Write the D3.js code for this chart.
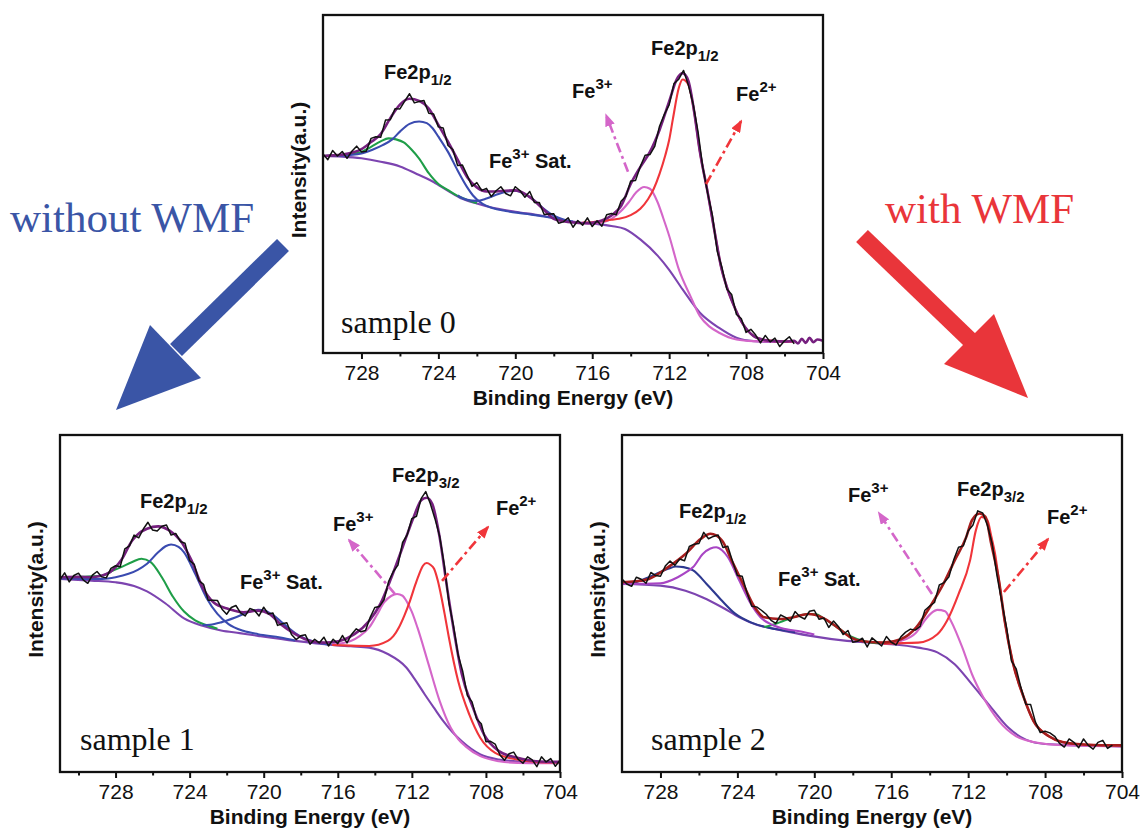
<!DOCTYPE html>
<html>
<head>
<meta charset="utf-8">
<script src="https://cdn.jsdelivr.net/npm/d3@7"></script>
<style>
  body { margin: 0; background: #fff; }
  svg { display: block; }
</style>
</head>
<body>
<svg id="fig" width="1142" height="831"></svg>
<script>
// ---------- data (binding energy in eV, intensity in arbitrary units 0-100) ----------
var majorTicks = [728, 724, 720, 716, 712, 708, 704];
var minorTicks = [730, 726, 722, 718, 714, 710, 706];
var rawStep = 0.25;

// sample 0 (top)
var s0Raw = [58.9,57.2,59.9,58.3,59.6,57.6,59.7,61.2,59.5,59.7,
  63.5,64.0,63.8,68.9,69.0,72.3,72.2,74.5,76.7,74.0,
  74.4,74.7,70.9,70.7,66.9,66.6,61.4,60.2,55.5,55.6,
  52.6,49.3,50.4,48.1,48.7,46.3,48.0,49.2,47.2,46.5,
  49.2,48.0,46.1,47.8,44.5,44.5,41.0,41.1,41.2,38.4,
  38.8,40.0,37.2,39.2,37.8,40.0,37.4,39.1,37.5,40.9,
  41.3,40.9,44.9,46.4,50.9,51.0,55.2,58.5,58.7,61.1,
  67.1,70.6,73.4,79.7,81.0,83.6,79.2,73.6,65.5,54.9,
  47.4,40.7,30.1,25.2,18.9,17.3,11.4,10.2,6.1,7.0,
  5.3,3.0,5.2,3.3,4.4,1.9,3.6,4.8,2.7];
var s0Bg = [[730,58.3],[729,58.1],[728,57.6],[727,56.6],[726,55.2],[725.2,53.2],[724.25,50.6],[723.5,48.0],
  [722.76,45.6],[722,44.2],[721.3,43.1],[720,41.8],[718.7,40.7],[717.7,39.6],[716.8,38.7],[715.8,38.2],
  [715,37.6],[714.3,36.7],[713.5,33.6],[712.6,28.8],[712,24.6],[711.3,18.8],[710.4,11.9],[709.4,7.4],
  [708.5,4.5],[707.6,3.5],[706.5,3.3],[705.5,3.3]];
var s0Green = [[730,58.3],[729,58.6],[728,59.5],[727.5,61.0],[727,62.6],[726.6,63.5],[726.2,63.2],[725.8,62.3],
  [725.4,60.2],[725,57.5],[724.5,53.2],[724,50.0],[723.5,48.2],[723,46.5],[722.5,45.3],[722,44.3]];
var s0Blue = [[730,58.3],[729,58.4],[728,59.0],[727.4,60.2],[726.9,61.5],[726.4,63.2],[726,65.5],[725.5,67.8],
  [725,68.5],[724.6,68.0],[724.3,66.5],[724,64.0],[723.5,59.5],[723,54.0],[722.5,49.0],[722.2,46.6],
  [721.7,44.1],[721.2,42.9],[720.5,42.0],[719.5,41.2],[718.5,40.4],[717.7,39.6]];
var s0Sat = [[723,46.6],[722.5,45.3],[722,45.0],[721.5,45.7],[721,46.8],[720.5,47.7],[720,48.0],[719.5,47.0],
  [719,45.1],[718.5,42.6],[718,40.6],[717.5,39.5],[717,38.9]];
var s0Pink = [[716.5,38.5],[716,38.3],[715.5,38.6],[715,39.7],[714.5,42.0],[714.1,44.6],[713.7,47.6],[713.3,49.1],
  [713,48.6],[712.6,44.6],[712.3,39.8],[712,34.7],[711.5,24.8],[710.9,16.9],[710.4,10.9],[709.9,7.8],
  [709.4,6.0],[708.5,4.0],[707.6,3.5],[706,3.3],[705.5,3.3]];
var s0Red = [[716.5,38.6],[716,38.7],[715,39.4],[714.6,39.7],[714,40.8],[713.5,42.7],[713.1,45.5],[712.8,48.6],
  [712.5,53.0],[712.2,58.5],[712,63.0],[711.8,69.4],[711.5,78.4],[711.3,80.9],[711,79.4],[710.7,71.4],
  [710.4,59.5],[710,47.6],[709.6,34.7],[709.3,25.5],[709,19.5],[708.7,14.9],[708.2,8.9],[707.6,5.0],
  [707,3.8],[706,3.4],[705.5,3.4]];
var s0Env = [[730,58.3],[729,58.7],[728,60.3],[727.5,62.4],[727,64.8],[726.5,69.5],[726,73.5],[725.5,75.2],
  [725,74.6],[724.5,72.3],[724,67.5],[723.5,62.5],[723,57.2],[722.5,52.0],[722,49.0],[721.5,47.8],
  [721,47.8],[720.5,48.0],[720,48.1],[719.5,47.1],[719,45.0],[718.5,42.3],[718,39.7],[717.5,39.0],
  [717,38.6],[716.5,38.4],[716,38.5],[715.5,39.2],[715,40.7],[714.5,43.5],[714,50.0],[713.5,55.0],
  [713,59.5],[712.5,66.0],[712,74.4],[711.6,81.0],[711.3,82.8],[711,80.5],[710.7,71.4],[710.4,59.5],
  [710,47.6],[709.6,34.7],[709.3,25.5],[709,19.5],[708.7,14.9],[708.2,8.9],[707.6,5.0],[707,3.8],
  [706.5,3.5],[706,3.4],[705.5,3.6],[705.3,2.8],[705.1,4.2],[704.9,3.0],[704.7,4.5],[704.5,3.2],
  [704.3,4.0],[704,3.6]];
var s0Labels = [
  {at: [726.83, 81.1], text: "Fe2p", sub: "1/2"},
  {at: [712.94, 88.2], text: "Fe2p", sub: "1/2"},
  {at: [717.05, 75.4], text: "Fe", sup: "3+"},
  {at: [708.52, 74.6], text: "Fe", sup: "2+"},
  {at: [721.37, 54.7], text: "Fe", sup: "3+", tail: " Sat."}
];
var s0Arrows = [
  {from: [714.14, 53.6], to: [715.28, 70.4], kind: "pink"},
  {from: [710.08, 50.0], to: [708.26, 68.6], kind: "red"}
];

// sample 1 (bottom left)
var s1Raw = [57.1,59.1,56.4,58.3,59.0,57.0,56.0,58.4,59.5,57.9,
  57.6,60.4,61.2,60.9,66.2,67.1,70.3,69.5,72.1,74.1,
  71.8,71.5,72.9,73.3,70.3,70.8,68.4,67.9,62.7,61.6,
  56.8,55.7,51.0,51.0,50.9,48.3,46.8,48.8,49.4,47.2,
  46.3,48.5,48.0,46.3,48.9,46.9,47.2,43.5,44.0,44.3,
  40.8,39.3,40.4,40.7,37.9,39.4,38.3,40.0,37.4,39.4,
  38.1,40.5,38.3,40.9,42.5,41.6,42.0,45.9,48.8,49.1,
  51.1,56.6,59.5,61.4,68.1,70.4,75.2,75.9,81.1,83.2,
  79.6,75.1,70.0,61.5,50.3,43.3,34.7,29.8,22.7,20.8,
  15.7,14.3,9.0,9.1,8.3,5.1,3.5,5.4,5.9,3.7,
  2.6,4.5,3.6,1.6,4.5,3.0,4.0,1.7,3.5];
var s1Bg = [[731,57.3],[729.3,56.8],[728,56.3],[727,55.2],[726.3,53.6],[725.3,50.0],[724.3,45.6],[723.3,43.4],
  [722.3,42.0],[721.3,41.2],[720.3,40.4],[718.3,38.9],[716.3,37.7],[715.3,37.3],[714.3,36.9],[713.3,35.0],
  [712.3,31.0],[711.8,27.2],[711.3,23.0],[710.8,19.0],[710.3,15.1],[709.8,11.8],[709.3,9.1],[708.3,5.2],
  [707.3,3.7],[706.3,3.2],[705,2.9],[704,2.7]];
var s1Green = [[731,57.5],[730.3,57.8],[729.5,58.0],[728.7,58.3],[728.2,59.6],[727.7,60.8],[727.1,62.3],
  [726.6,63.3],[726.1,62.3],[725.5,57.8],[724.9,52.0],[724.3,47.6],[723.7,45.0],[723.1,43.6],[722.5,42.5]];
var s1Blue = [[731,57.5],[729.5,57.3],[728.7,57.3],[728,57.8],[727.3,58.8],[726.8,60.0],[726.3,61.8],
  [725.7,65.2],[725.3,67.0],[725,67.5],[724.6,66.8],[724.3,65.2],[723.7,58.8],[723.1,51.8],[722.5,46.9],
  [721.9,43.9],[721.1,41.9],[720.3,40.9],[719.1,39.9],[718.3,39.0]];
var s1Sat = [[723.3,43.6],[722.9,43.7],[722.3,44.4],[721.5,45.9],[720.7,47.7],[720.3,48.1],[719.9,47.8],
  [719.5,46.6],[719.1,44.8],[718.7,42.9],[718.3,41.2],[717.9,39.9],[717.1,38.4],[716.5,37.8]];
var s1Pink = [[716.3,37.9],[715.3,38.9],[714.8,40.4],[714.3,42.9],[713.9,46.5],[713.5,50.3],[713.1,52.3],
  [712.8,52.8],[712.5,52.3],[712.3,50.8],[712,47.5],[711.7,42.9],[711.1,32.0],[710.5,21.1],[709.9,13.1],
  [709.5,9.8],[709.1,7.6],[708.3,4.7],[707.3,3.2],[706.3,2.7],[705,2.6],[704,2.6]];
var s1Red = [[716.3,37.7],[715.3,37.5],[714.3,37.4],[713.3,38.9],[713,40.3],[712.7,42.9],[712.4,46.5],
  [712.1,50.8],[711.8,55.8],[711.6,58.8],[711.4,61.2],[711.2,62.0],[711,61.5],[710.8,60.3],[710.6,56.8],
  [710.4,51.8],[710.2,46.0],[710,39.9],[709.5,27.0],[708.9,17.1],[708.3,10.1],[707.5,5.7],[706.3,3.7],
  [705.3,3.0],[704,2.8]];
var s1Env = [[731,57.8],[730,57.9],[729.3,57.8],[728.8,58.2],[728.3,59.3],[727.7,62.8],[727.1,68.7],
  [726.7,71.0],[726.3,72.2],[725.7,72.9],[725.1,71.7],[724.5,68.7],[723.9,62.8],[723.3,54.8],[722.7,50.3],
  [721.9,48.4],[721.1,47.4],[720.3,47.9],[719.7,46.9],[719.1,43.9],[718.3,40.9],[717.5,38.9],[716.7,38.4],
  [715.9,38.9],[715.1,40.9],[714.3,44.9],[713.7,49.9],[713.1,57.8],[712.5,66.7],[711.9,75.7],[711.5,80.6],
  [711.2,81.4],[710.9,79.6],[710.5,69.7],[710.1,54.8],[709.7,40.9],[709.3,29.0],[708.7,19.1],[708.1,11.1],
  [707.3,6.2],[706.3,4.2],[705.3,3.2],[704,3.0]];
var s1Labels = [
  {at: [726.68, 78.3], text: "Fe2p", sub: "1/2"},
  {at: [713.07, 86.1], text: "Fe2p", sub: "3/2"},
  {at: [716.26, 71.5], text: "Fe", sup: "3+"},
  {at: [707.46, 76.3], text: "Fe", sup: "2+"},
  {at: [721.28, 54.3], text: "Fe", sup: "3+", tail: " Sat."}
];
var s1Arrows = [
  {from: [712.91, 52.8], to: [715.39, 68.8], kind: "pink"},
  {from: [710.37, 56.7], to: [707.89, 72.7], kind: "red"}
];

// sample 2 (bottom right)
var s2Raw = [57.3,55.8,55.1,57.8,57.2,56.0,59.2,58.3,58.1,61.1,
  62.6,61.3,63.2,62.7,66.9,67.6,67.8,71.1,69.2,69.9,
  70.3,66.6,67.0,62.5,58.3,58.1,53.2,49.2,49.0,48.0,
  46.8,45.0,44.1,46.6,45.9,44.7,47.6,46.1,45.4,47.7,
  48.0,45.3,45.7,42.9,44.8,43.2,40.8,42.0,38.5,38.8,
  39.7,37.1,39.8,38.6,37.4,40.2,38.5,37.7,40.1,41.5,
  42.4,42.1,43.2,48.0,49.2,50.3,55.5,56.2,57.9,63.0,
  66.7,67.1,71.5,73.3,77.5,76.9,73.2,67.8,58.3,50.4,
  42.8,33.0,30.6,24.9,20.1,20.0,14.8,11.7,12.1,11.6,
  10.6,8.5,7.4,9.8,8.8,7.2,9.8,7.9,6.8,8.8,
  9.4,7.0,8.0];
var s2Bg = [[730,55.8],[728,55.3],[726.7,53.8],[725.8,51.8],[724.8,48.9],[723.9,45.9],[723,43.7],[722,42.4],
  [720.2,40.4],[718.3,38.9],[716.4,38.1],[714.6,36.9],[713.6,35.5],[712.7,32.0],[711.8,26.0],[710.8,19.1],
  [709.9,13.1],[709,9.6],[708,8.3],[706.2,7.9],[704,7.6]];
var s2Navy = [[730,55.8],[729.3,56.3],[728.6,57.8],[727.6,60.3],[727.2,61.0],[726.8,60.8],[726.3,59.8],
  [725.6,55.8],[724.8,50.8],[724.1,46.9],[723.3,44.4],[722.6,43.1],[721.8,42.2],[721,41.5]];
var s2Violet = [[730,55.8],[728,56.0],[727.1,57.8],[726.6,59.5],[726.3,60.8],[725.8,64.7],[725.4,66.3],
  [725.1,66.7],[724.8,65.8],[724.5,63.8],[723.9,56.8],[723.3,49.9],[722.8,45.9],[722.2,43.7],[721.5,42.4],
  [720.7,41.7],[720,40.8]];
var s2Sat = [[722.6,43.0],[722.2,43.6],[721.8,44.4],[721.1,45.9],[720.3,46.9],[719.9,46.8],[719.6,45.9],
  [718.8,42.9],[718.1,40.2],[717.4,38.8],[716.6,38.2]];
var s2Pink = [[716.4,38.1],[715.5,38.9],[714.7,41.4],[714.2,45.4],[713.9,47.2],[713.6,48.1],[713.2,47.7],
  [712.9,44.9],[712.3,36.9],[711.8,29.0],[711.2,22.0],[710.4,15.1],[709.5,10.6],[708.6,8.9],[707.5,8.1],
  [706,7.8],[704,7.6]];
var s2Red = [[716.4,38.1],[714.6,38.4],[713.6,40.9],[713.1,44.9],[712.5,52.8],[711.9,62.8],[711.6,71.7],
  [711.3,75.7],[711,74.7],[710.8,70.0],[710.6,64.7],[710.4,56.8],[710.1,44.9],[709.7,33.0],[709.1,22.0],
  [708.6,15.1],[707.8,10.6],[707.1,8.9],[705.8,8.1],[704,7.9]];
var s2Env = [[730,56.3],[729.3,56.6],[728.6,57.3],[727.6,60.8],[726.7,64.7],[725.9,69.2],[725.4,70.7],
  [724.8,68.7],[724.3,62.8],[723.7,55.8],[723.1,48.9],[722.6,45.9],[721.8,45.4],[721.1,45.9],[720.3,46.9],
  [719.6,45.9],[718.8,42.9],[718.1,39.9],[717.4,38.7],[716.4,38.4],[715.5,39.4],[714.7,42.9],[714,48.9],
  [713.2,56.8],[712.7,62.8],[712.1,69.7],[711.8,74.7],[711.4,76.7],[711.1,75.7],[710.8,67.7],[710.4,56.8],
  [710.1,44.9],[709.7,33.0],[709.1,22.0],[708.6,15.1],[707.8,10.6],[707.1,8.9],[705.8,8.1],[704,7.9]];
var s2Labels = [
  {at: [727.04, 75.4], text: "Fe2p", sub: "1/2"},
  {at: [712.58, 81.9], text: "Fe2p", sub: "3/2"},
  {at: [718.25, 80.1], text: "Fe", sup: "3+"},
  {at: [707.90, 73.6], text: "Fe", sup: "2+"},
  {at: [721.89, 55.2], text: "Fe", sup: "3+", tail: " Sat."}
];
var s2Arrows = [
  {from: [713.88, 52.8], to: [716.64, 76.9], kind: "pink"},
  {from: [710.14, 53.4], to: [707.85, 69.1], kind: "red"}
];

// ---------- styling ----------
var col = {
  raw: "#111111", bg: "#7c44b0", env: "#76207f", green: "#1f9e48", blue: "#3a4bb0",
  pink: "#d466c9", red: "#f0353a", navy: "#2d3990", violet: "#a845c4", env2: "#a51d1d",
  sideBlue: "#3a55a6", sideRed: "#e9353a"
};
var sans = "'Liberation Sans', Arial, Helvetica, sans-serif";
var serif = "'Liberation Serif', 'Times New Roman', Times, serif";

var svg = d3.select("#fig");
var defs = svg.append("defs");
["pink", "red"].forEach(function(k) {
  defs.append("marker")
    .attr("id", "head-" + k)
    .attr("viewBox", "0 0 13 10")
    .attr("refX", 11).attr("refY", 5)
    .attr("markerWidth", 13).attr("markerHeight", 10)
    .attr("markerUnits", "userSpaceOnUse")
    .attr("orient", "auto")
    .append("path").attr("d", "M0,0L13,5L0,10Z").attr("fill", col[k]);
});

var panels = [
  {id: 0, left: 323, top: 15, w: 500, h: 338, xMax: 730, raw: s0Raw, name: "sample 0", namePos: [729.06, 5.9],
   curves: [[s0Bg, col.bg], [s0Green, col.green], [s0Sat, col.blue], [s0Blue, col.blue],
            [s0Pink, col.pink], [s0Red, col.red], [s0Env, col.env]],
   labels: s0Labels, arrows: s0Arrows},
  {id: 1, left: 60, top: 435, w: 500, h: 337, xMax: 731, raw: s1Raw, name: "sample 1", namePos: [729.92, 6.5],
   curves: [[s1Bg, col.bg], [s1Green, col.green], [s1Sat, col.blue], [s1Blue, col.blue],
            [s1Pink, col.pink], [s1Red, col.red], [s1Env, col.env]],
   labels: s1Labels, arrows: s1Arrows},
  {id: 2, left: 622, top: 435, w: 500, h: 337, xMax: 730, raw: s2Raw, name: "sample 2", namePos: [728.49, 6.5],
   curves: [[s2Bg, col.bg], [s2Navy, col.navy], [s2Sat, col.green], [s2Violet, col.violet],
            [s2Pink, col.pink], [s2Red, col.red], [s2Env, col.env2]],
   labels: s2Labels, arrows: s2Arrows}
];

panels.forEach(drawPanel);

function drawPanel(p) {
  var g = svg.append("g").attr("transform", "translate(" + p.left + "," + p.top + ")");
  var x = d3.scaleLinear().domain([p.xMax, 704]).range([0, p.w]);
  var y = d3.scaleLinear().domain([0, 100]).range([p.h, 0]);

  g.append("clipPath").attr("id", "clip" + p.id)
    .append("rect").attr("width", p.w).attr("height", p.h);
  var plot = g.append("g").attr("clip-path", "url(#clip" + p.id + ")");

  // fitted components, background and envelope
  var fit = d3.line()
    .x(function(d) { return x(d[0]); })
    .y(function(d) { return y(d[1]); })
    .curve(d3.curveMonotoneX);
  p.curves.forEach(function(c, i) {
    plot.append("path").datum(c[0])
      .attr("d", fit)
      .attr("fill", "none").attr("stroke", c[1])
      .attr("stroke-width", i === p.curves.length - 1 ? 2.6 : 2.1);
  });

  // noisy measured spectrum, drawn over the envelope
  var rawLine = d3.line()
    .x(function(d, i) { return x(p.xMax - i * rawStep); })
    .y(function(d) { return y(d); });
  plot.append("path").datum(p.raw)
    .attr("d", rawLine)
    .attr("fill", "none").attr("stroke", col.raw)
    .attr("stroke-width", 1.5).attr("stroke-linejoin", "round");

  // frame
  g.append("rect").attr("width", p.w).attr("height", p.h)
    .attr("fill", "none").attr("stroke", "#111").attr("stroke-width", 2.3);

  // x axis ticks
  var ax = g.append("g").attr("transform", "translate(0," + p.h + ")")
    .call(d3.axisBottom(x).tickValues(majorTicks).tickSize(6).tickSizeOuter(0)
      .tickPadding(6).tickFormat(d3.format("d")));
  ax.select(".domain").remove();
  ax.selectAll("line").attr("stroke", "#111").attr("stroke-width", 2);
  ax.selectAll("text").attr("font-family", sans).attr("font-size", 21).attr("fill", "#111");

  var minor = minorTicks.filter(function(t) { return t < p.xMax; });
  var axm = g.append("g").attr("transform", "translate(0," + p.h + ")")
    .call(d3.axisBottom(x).tickValues(minor).tickSize(3.5).tickSizeOuter(0).tickFormat(""));
  axm.select(".domain").remove();
  axm.selectAll("line").attr("stroke", "#111").attr("stroke-width", 2);

  // axis titles
  g.append("text")
    .attr("x", p.w / 2).attr("y", p.h + 52)
    .attr("text-anchor", "middle")
    .attr("font-family", sans).attr("font-weight", "bold").attr("font-size", 21)
    .attr("fill", "#111")
    .text("Binding Energy (eV)");
  g.append("text")
    .attr("transform", "translate(-17," + (p.h / 2 - 14) + ") rotate(-90)")
    .attr("text-anchor", "middle")
    .attr("font-family", sans).attr("font-weight", "bold").attr("font-size", 21)
    .attr("fill", "#111")
    .text("Intensity(a.u.)");

  // peak labels
  p.labels.forEach(function(l) {
    var t = g.append("text")
      .attr("x", x(l.at[0])).attr("y", y(l.at[1]))
      .attr("font-family", sans).attr("font-weight", "bold").attr("font-size", 20)
      .attr("fill", "#111");
    t.append("tspan").text(l.text);
    if (l.sub) t.append("tspan").attr("dy", 6).attr("font-size", 15).text(l.sub);
    if (l.sup) t.append("tspan").attr("dy", -9).attr("font-size", 15).text(l.sup);
    if (l.tail) t.append("tspan").attr("dy", 9).attr("font-size", 20).text(l.tail);
  });

  // dash-dot pointers
  p.arrows.forEach(function(a) {
    g.append("line")
      .attr("x1", x(a.from[0])).attr("y1", y(a.from[1]))
      .attr("x2", x(a.to[0])).attr("y2", y(a.to[1]))
      .attr("stroke", col[a.kind]).attr("stroke-width", 2.6)
      .attr("stroke-dasharray", "10,4,3,4")
      .attr("marker-end", "url(#head-" + a.kind + ")");
  });

  // sample name
  g.append("text")
    .attr("x", x(p.namePos[0])).attr("y", y(p.namePos[1]))
    .attr("font-family", serif).attr("font-size", 32).attr("fill", "#111")
    .text(p.name);
}

// ---------- side annotations ----------
svg.append("text").attr("x", 10).attr("y", 232)
  .attr("font-family", serif).attr("font-size", 43).attr("fill", col.sideBlue)
  .text("without WMF");
svg.append("text").attr("x", 885).attr("y", 223)
  .attr("font-family", serif).attr("font-size", 43).attr("fill", col.sideRed)
  .text("with WMF");

svg.append("line").attr("x1", 283).attr("y1", 245).attr("x2", 176).attr("y2", 350)
  .attr("stroke", col.sideBlue).attr("stroke-width", 17);
svg.append("polygon").attr("points", "150,325 201,378 116,410").attr("fill", col.sideBlue);

svg.append("line").attr("x1", 862).attr("y1", 236).attr("x2", 970).attr("y2", 340)
  .attr("stroke", col.sideRed).attr("stroke-width", 17);
svg.append("polygon").attr("points", "994,314 944,364 1028,398").attr("fill", col.sideRed);
</script>
</body>
</html>
